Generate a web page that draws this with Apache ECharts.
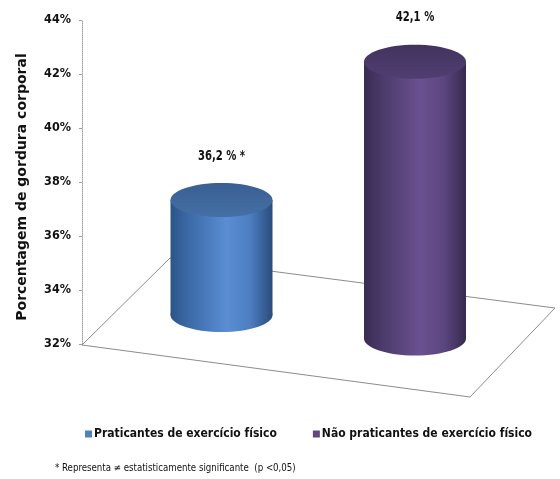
<!DOCTYPE html>
<html><head><meta charset="utf-8">
<script src="https://cdn.jsdelivr.net/npm/echarts@6/dist/echarts.min.js"></script>
<style>html,body{margin:0;padding:0;background:#fff}#c{width:560px;height:479px}</style>
</head><body><div id="c"></div>
<script>
// ---- data ----
const categories = ['Praticantes de exercício físico', 'Não praticantes de exercício físico'];
const values = [36.2, 42.1];
const valueLabels = ['36,2 %', '42,1 %'];
const significance = ['*', ''];
const yTicks = [32, 34, 36, 38, 40, 42, 44];
const yAxisTitle = 'Porcentagem de gordura corporal';
const footnote = '* Representa \u2260 estatisticamente significante  (p <0,05)';

// ---- style ----
const NARROW = '"Liberation Sans Narrow","Arial Narrow","DejaVu Sans Condensed",sans-serif';
const WIDE = '"DejaVu Sans",Verdana,sans-serif';
const legendColors = ['#4f81bd', '#604a7b'];
const palettes = [
  { body: [{offset:0,color:'#2c5487'},{offset:0.18,color:'#3c6aa8'},{offset:0.55,color:'#5a8dd3'},{offset:0.78,color:'#4d7ec2'},{offset:1,color:'#2a4c7c'}],
    top: [{offset:0,color:'#395f92'},{offset:1,color:'#456fa5'}] },
  { body: [{offset:0,color:'#3a2b52'},{offset:0.18,color:'#4b3a6a'},{offset:0.55,color:'#6a5190'},{offset:0.78,color:'#5c4680'},{offset:1,color:'#37294f'}],
    top: [{offset:0,color:'#42335d'},{offset:1,color:'#503e72'}] }
];
const FLOOR_SHIFT = -29, FLOOR_SLOPE = 0.1214, DEPTH_SCALE = 1.015, RX = 51, RY = 17;

const yMin = yTicks[0], yMax = yTicks[yTicks.length - 1], yStep = yTicks[1] - yTicks[0];

function cylinderRenderer(i) {
  const pal = palettes[i];
  return function (params, api) {
    const x = api.value(0), v = api.value(1);
    const p0 = api.coord([x, yMin]);
    const p1 = api.coord([x, v]);
    const ref = api.coord([0, yMin])[0];
    const cx = p0[0];
    const base = p0[1] + FLOOR_SHIFT + FLOOR_SLOPE * (cx - ref);
    const top = base - (p0[1] - p1[1]) * DEPTH_SCALE;
    const grad = {type:'linear', x:0, y:0, x2:1, y2:0, colorStops: pal.body};
    const tgrad = {type:'linear', x:0, y:0, x2:0, y2:1, colorStops: pal.top};
    const label = valueLabels[i] + (significance[i] ? ' ' + significance[i] : '');
    return {type:'group', children:[
      {type:'ellipse', shape:{cx:cx, cy:base, rx:RX, ry:RY}, style:{fill:grad}},
      {type:'rect', shape:{x:cx-RX, y:top, width:2*RX, height:base-top}, style:{fill:grad}},
      {type:'ellipse', shape:{cx:cx, cy:top, rx:RX, ry:RY}, style:{fill:tgrad}},
      {type:'text', x:cx, y:top-RY-27, scaleX:0.8, style:{text:label, fill:'#111', font:'bold 14px ' + NARROW, align:'center', verticalAlign:'middle', textAlign:'center', textVerticalAlign:'middle'}}
    ]};
  };
}

function floorRenderer(params, api) {
  const a = api.coord([0, yMin]);
  const b = api.coord([1, yMin]);
  const pts = [[a[0]-139.5, a[1]+1], [a[0]-51.5, a[1]-86], [b[0]+140, b[1]-36], [b[0]+55, b[1]+53]];
  return {type:'polygon', shape:{points:pts}, style:{fill:'none', stroke:'#8c8c8c', lineWidth:1}};
}

const series = [{
  type:'custom', name:'floor', xAxisIndex:1, yAxisIndex:1, silent:true, z:1,
  data:[[0, yMin]], renderItem: floorRenderer
}];
categories.forEach(function (c, i) {
  series.push({
    type:'custom', name:c, xAxisIndex:1, yAxisIndex:1, z:2,
    itemStyle:{color:legendColors[i]},
    data:[[i, values[i]]], renderItem: cylinderRenderer(i)
  });
});

const chart = echarts.init(document.getElementById('c'), null, {renderer:'canvas'});
chart.setOption({
  animation:false,
  backgroundColor:'#fff',
  title:[{text:footnote, left:50, top:458, textStyle:{fontSize:9.6, fontWeight:'normal', fontFamily:NARROW, color:'#111'}}],
  legend:{data:categories, left:80, top:423, width:480, icon:'rect', itemWidth:7, itemHeight:7, itemGap:36,
    textStyle:{fontSize:12, fontWeight:'bold', fontFamily:NARROW, color:'#111', padding:[0,0,0,-3]}},
  grid:[
    {left:82, top:20, width:10, bottom:135},
    {left:124.75, top:20, width:387, bottom:135}
  ],
  xAxis:[
    {gridIndex:0, type:'value', show:false},
    {gridIndex:1, type:'category', data:categories, show:false}
  ],
  yAxis:[
    {gridIndex:0, type:'value', min:yMin, max:yMax, interval:yStep,
     name:yAxisTitle, nameLocation:'middle', nameGap:53, nameRotate:90,
     nameTextStyle:{fontSize:14, fontWeight:'bold', fontFamily:WIDE, color:'#111', padding:[0,10,0,0]},
     axisLine:{show:true, lineStyle:{color:'#a0a0a0', type:'dotted', width:1}},
     axisTick:{show:true, length:3, lineStyle:{color:'#a0a0a0'}},
     axisLabel:{formatter:'{value}%', fontSize:12.5, fontWeight:'bold', fontFamily:NARROW, color:'#111', margin:11},
     splitLine:{show:false}},
    {gridIndex:1, type:'value', min:yMin, max:yMax, interval:yStep, show:false, splitLine:{show:false}}
  ],
  series:series
});
</script>
</body></html>
